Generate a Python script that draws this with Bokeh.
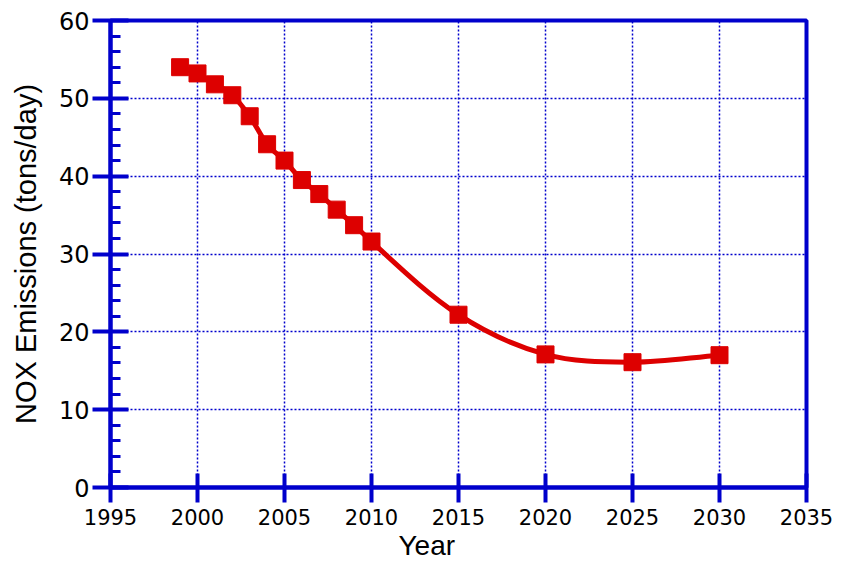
import numpy as np
from bokeh.plotting import figure
from bokeh.models import Range1d, FixedTicker, Title
from bokeh.embed import file_html
from bokeh.resources import INLINE

years = [1999, 2000, 2001, 2002, 2003, 2004, 2005, 2006, 2007, 2008, 2009, 2010, 2015, 2020, 2025, 2030]
nox = [54.0, 53.2, 51.8, 50.4, 47.7, 44.1, 42.0, 39.5, 37.7, 35.7, 33.7, 31.6, 22.2, 17.1, 16.1, 17.0]
x_ticks = [1995, 2000, 2005, 2010, 2015, 2020, 2025, 2030, 2035]
y_ticks = [0, 10, 20, 30, 40, 50, 60]
x_title = "Year"
y_title = "NOX Emissions (tons/day)"

BLUE = "#0000cc"
RED = "#dd0000"

p = figure(width=834, height=561, output_backend="svg", toolbar_location=None,
           x_range=Range1d(1995, 2035), y_range=Range1d(0, 60),
           min_border_left=110, min_border_right=28, min_border_top=20, min_border_bottom=74)

p.outline_line_color = BLUE
p.outline_line_width = 4
p.outline_line_alpha = 1

# grid
for g in (p.xgrid, p.ygrid):
    g.grid_line_color = BLUE
    g.grid_line_width = 1.5
    g.grid_line_dash = "2 2"
p.xgrid.ticker = FixedTicker(ticks=x_ticks)
p.ygrid.ticker = FixedTicker(ticks=y_ticks)

# axes
xa = p.xaxis[0]
xa.ticker = FixedTicker(ticks=x_ticks)
xa.axis_line_color = BLUE
xa.axis_line_width = 4
xa.major_tick_line_color = BLUE
xa.major_tick_line_width = 4
xa.major_tick_in = 14
xa.major_tick_out = 15
xa.minor_tick_line_color = None
xa.major_label_text_font = "DejaVu Sans"
xa.major_label_text_font_size = "21px"
xa.major_label_text_color = "black"
xa.major_label_standoff = 6

ya = p.yaxis[0]
ya.ticker = FixedTicker(ticks=y_ticks, minor_ticks=list(range(0, 61, 2)))
ya.axis_line_color = BLUE
ya.axis_line_width = 4
ya.major_tick_line_color = BLUE
ya.major_tick_line_width = 4
ya.major_tick_in = 18
ya.major_tick_out = 18
ya.minor_tick_line_color = BLUE
ya.minor_tick_line_width = 3
ya.minor_tick_in = 10
ya.minor_tick_out = 0
ya.major_label_text_font = "DejaVu Sans"
ya.major_label_text_font_size = "24px"
ya.major_label_text_color = "black"
ya.major_label_standoff = 3
ya.axis_label = y_title
ya.axis_label_text_font = "Liberation Sans"
ya.axis_label_text_font_size = "29px"
ya.axis_label_text_font_style = "normal"
ya.axis_label_text_color = "black"
ya.axis_label_standoff = 14

# x-axis title (slightly left of centre, as in the original)
p.add_layout(Title(text=x_title, align="left", offset=288, standoff=0,
                   text_font="Liberation Sans", text_font_size="28px",
                   text_font_style="normal", text_color="black"), "below")

# smooth curve through data (cubic Hermite segments drawn as Bezier)
x = np.array(years, dtype=float)
y = np.array(nox, dtype=float)
n = len(x)
sec = np.diff(y) / np.diff(x)
m = np.zeros(n)
m[0] = sec[0]
m[-1] = sec[-1]
for i in range(1, n - 1):
    h0, h1 = x[i] - x[i - 1], x[i + 1] - x[i]
    m[i] = (sec[i - 1] * h1 + sec[i] * h0) / (h0 + h1)
h = np.diff(x)
p.bezier(x0=x[:-1], y0=y[:-1], x1=x[1:], y1=y[1:],
         cx0=x[:-1] + h / 3, cy0=y[:-1] + m[:-1] * h / 3,
         cx1=x[1:] - h / 3, cy1=y[1:] - m[1:] * h / 3,
         line_color=RED, line_width=5)

p.scatter(years, nox, marker="square", size=17, fill_color=RED, line_color=RED)

open("out.html", "w").write(file_html(p, INLINE))
